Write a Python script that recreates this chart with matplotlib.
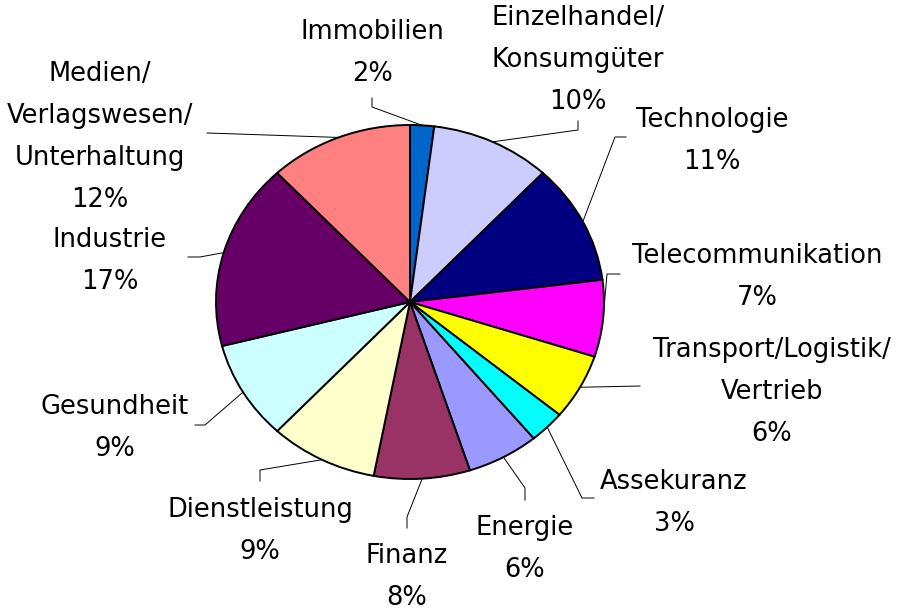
import numpy as np
import matplotlib
matplotlib.use("Agg")
import matplotlib.pyplot as plt

# slices, clockwise from 12 o'clock
sectors = ["Immobilien", "Einzelhandel/\nKonsumgüter", "Technologie", "Telecommunikation",
           "Transport/Logistik/\nVertrieb", "Assekuranz", "Energie", "Finanz",
           "Dienstleistung", "Gesundheit", "Industrie", "Medien/\nVerlagswesen/\nUnterhaltung"]
shares = [2, 10, 11, 7, 6, 3, 6, 8, 9, 9, 17, 12]
colors = ["#0066CC", "#CCCCFF", "#000080", "#FF00FF", "#FFFF00", "#00FFFF",
          "#9999FF", "#993366", "#FFFFCC", "#CCFFFF", "#660066", "#FF8080"]

# layout in pixels: label centre, leader elbow, leader end
label_pos = [(372, 53), (578, 60), (712, 141), (757, 277), (772, 392), (674, 503),
             (525, 549), (407, 577), (260, 531), (115, 428), (110, 261), (100, 137)]
elbows = [(372, 107), (578, 130), (615, 137), (607, 274), (640, 386), (582, 498),
          (525, 488), (407, 517), (260, 470), (205, 425), (200, 257), (207, 133)]
ends = [(372, 98), (578, 121), (626, 137), (620, 274), (640, 386), (594, 498),
        (525, 500), (407, 528), (260, 481), (195, 425), (188, 257), (207, 133)]

W, H = 899, 611
cx, cy, rx, ry = 410, 302, 194, 177


def to_data(px, py):
    return (px - cx) / rx, (cy - py) / ry


fig = plt.figure(figsize=(W / 100, H / 100), dpi=100)
ax = fig.add_axes([0, 0, 1, 1])

wedges, _ = ax.pie(shares, colors=colors, startangle=90, counterclock=False,
                   radius=1, wedgeprops=dict(edgecolor="black", linewidth=1.4))
ax.set_aspect("auto")
ax.set_xlim(-cx / rx, (W - cx) / rx)
ax.set_ylim((cy - H) / ry, cy / ry)
ax.axis("off")

for i, w in enumerate(wedges):
    mid = np.deg2rad((w.theta1 + w.theta2) / 2)
    sx, sy = np.cos(mid), np.sin(mid)
    ex, ey = to_data(*elbows[i])
    fx, fy = to_data(*ends[i])
    ax.plot([sx, ex, fx], [sy, ey, fy], color="black", lw=0.7)
    lx, ly = to_data(*label_pos[i])
    ax.text(lx, ly, f"{sectors[i]}\n{shares[i]}%", ha="center", va="center",
            fontsize=18.5, family="DejaVu Sans", linespacing=1.8)

fig.savefig("out.png", dpi=100)
